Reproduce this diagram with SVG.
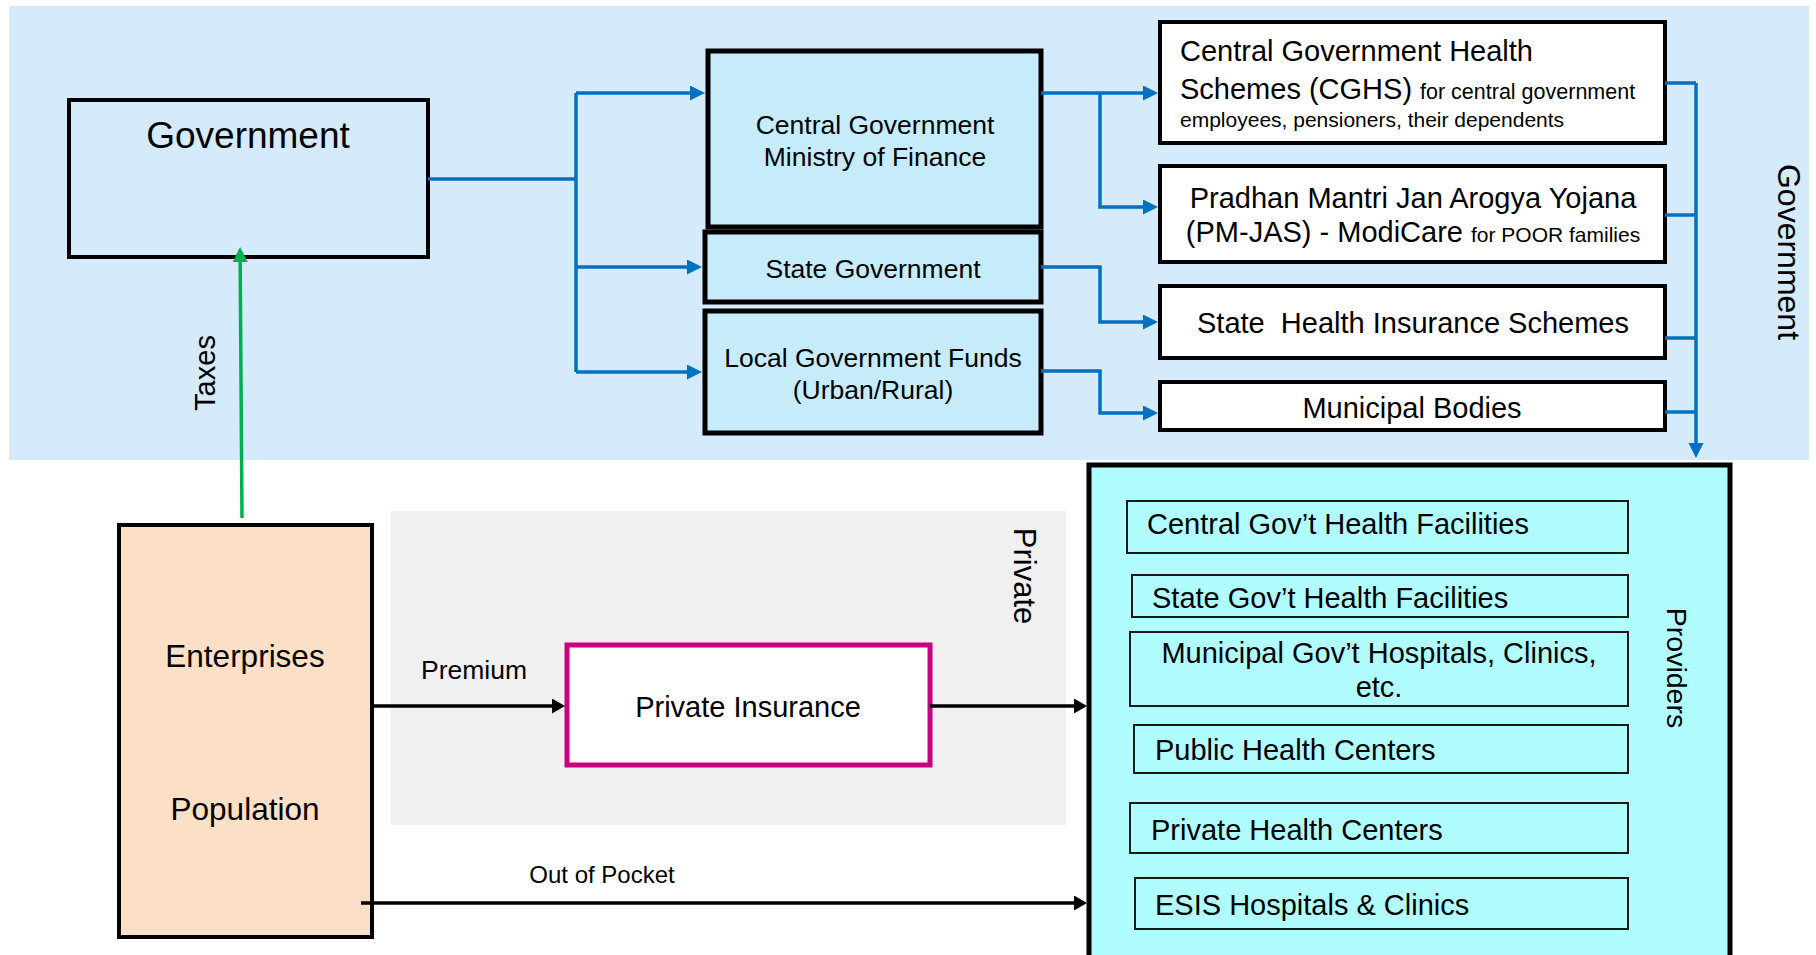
<svg xmlns="http://www.w3.org/2000/svg" width="1816" height="955" viewBox="0 0 1816 955">
<style>
text{font-family:"Liberation Sans",Arial,sans-serif;fill:#000}
.box{stroke:#000;stroke-width:4}
.thick{stroke:#000;stroke-width:5}
.inner{fill:none;stroke:#1a1a1a;stroke-width:2}
.blue{fill:none;stroke:#0070C0;stroke-width:3.5}
.black{fill:none;stroke:#000;stroke-width:3.5}
.green{fill:none;stroke:#00B050;stroke-width:3.5}
.mid{text-anchor:middle}
</style>
<defs>
<marker id="aBlue" markerUnits="userSpaceOnUse" markerWidth="16" markerHeight="16" refX="9" refY="7.5" orient="auto"><path d="M0,0 L15,7.5 L0,15 Z" fill="#0070C0"/></marker>
<marker id="aBlack" markerUnits="userSpaceOnUse" markerWidth="16" markerHeight="16" refX="7" refY="7.5" orient="auto"><path d="M0,0 L13,7.5 L0,15 Z" fill="#000"/></marker>
<marker id="aGreen" markerUnits="userSpaceOnUse" markerWidth="16" markerHeight="16" refX="9" refY="7.5" orient="auto"><path d="M0,0 L15,7.5 L0,15 Z" fill="#00B050"/></marker>
</defs>
<rect width="1816" height="955" fill="#fff"/>
<g id="region-government">
<rect x="9" y="6" width="1800" height="454" fill="#D5EAFB"/>
<text transform="translate(1778,252) rotate(90)" class="mid" font-size="32">Government</text>
</g>
<g id="region-private">
<rect x="391" y="511" width="675" height="314" fill="#F0F0F0"/>
<text transform="translate(1014,576) rotate(90)" class="mid" font-size="31">Private</text>
</g>
<g id="node-government">
<rect class="box" x="69" y="100" width="359" height="157" fill="none"/>
<text x="248" y="148" class="mid" font-size="37">Government</text>
</g>
<g id="node-central">
<rect class="thick" x="708" y="51" width="333" height="176" fill="#C6ECFC"/>
<text x="875" y="134" class="mid" font-size="26.5">Central Government</text>
<text x="875" y="166" class="mid" font-size="26.5">Ministry of Finance</text>
</g>
<g id="node-state">
<rect class="thick" x="705" y="232" width="336" height="70" fill="#C6ECFC"/>
<text x="873" y="278" class="mid" font-size="26.5">State Government</text>
</g>
<g id="node-local">
<rect class="thick" x="705" y="311" width="336" height="122" fill="#C6ECFC"/>
<text x="873" y="367" class="mid" font-size="26.5">Local Government Funds</text>
<text x="873" y="399" class="mid" font-size="26.5">(Urban/Rural)</text>
</g>
<g id="node-cghs">
<rect class="box" x="1160" y="22" width="505" height="121" fill="#fff"/>
<text x="1180" y="61" font-size="29">Central Government Health</text>
<text x="1180" y="99" font-size="29">Schemes (CGHS)<tspan font-size="21.5" dx="8">for central government</tspan></text>
<text x="1180" y="127" font-size="21">employees, pensioners, their dependents</text>
</g>
<g id="node-pmjas">
<rect class="box" x="1160" y="166" width="505" height="96" fill="#fff"/>
<text x="1413" y="208" class="mid" font-size="29">Pradhan Mantri Jan Arogya Yojana</text>
<text x="1413" y="242" class="mid" font-size="29">(PM-JAS) - ModiCare<tspan font-size="21" dx="8">for POOR families</tspan></text>
</g>
<g id="node-statehealth">
<rect class="box" x="1160" y="286" width="505" height="72" fill="#fff"/>
<text x="1413" y="333" class="mid" font-size="29" xml:space="preserve" style="white-space:pre">State  Health Insurance Schemes</text>
</g>
<g id="node-municipal">
<rect class="box" x="1160" y="382" width="505" height="48" fill="#fff"/>
<text x="1412" y="418" class="mid" font-size="29">Municipal Bodies</text>
</g>
<g id="node-enterprises">
<rect class="box" x="119" y="525" width="253" height="412" fill="#FCDFC7"/>
<text x="245" y="667" class="mid" font-size="31.5">Enterprises</text>
<text x="245" y="820" class="mid" font-size="31.5">Population</text>
</g>
<g id="node-private-insurance">
<rect x="567" y="645" width="363" height="120" fill="#fff" stroke="#C9007F" stroke-width="5"/>
<text x="748" y="717" class="mid" font-size="29">Private Insurance</text>
</g>
<g id="node-providers">
<rect class="thick" x="1089" y="465" width="641" height="510" fill="#B0FCFE"/>
<text transform="translate(1667,668) rotate(90)" class="mid" font-size="28.5">Providers</text>
<rect class="inner" x="1127" y="501" width="501" height="52"/>
<text x="1147" y="534" font-size="29">Central Gov’t Health Facilities</text>
<rect class="inner" x="1132" y="575" width="496" height="42"/>
<text x="1152" y="608" font-size="29">State Gov’t Health Facilities</text>
<rect class="inner" x="1130" y="632" width="498" height="74"/>
<text x="1379" y="663" class="mid" font-size="29">Municipal Gov’t Hospitals, Clinics,</text>
<text x="1379" y="697" class="mid" font-size="29">etc.</text>
<rect class="inner" x="1134" y="725" width="494" height="48"/>
<text x="1155" y="760" font-size="29">Public Health Centers</text>
<rect class="inner" x="1130" y="803" width="498" height="50"/>
<text x="1151" y="840" font-size="29">Private Health Centers</text>
<rect class="inner" x="1135" y="878" width="493" height="51"/>
<text x="1155" y="915" font-size="29">ESIS Hospitals &amp; Clinics</text>
</g>
<g id="connectors">
<path class="blue" d="M428,179 H576"/>
<path class="blue" d="M576,93 V372"/>
<path class="blue" d="M576,93 H699" marker-end="url(#aBlue)"/>
<path class="blue" d="M576,267 H696" marker-end="url(#aBlue)"/>
<path class="blue" d="M576,372 H696" marker-end="url(#aBlue)"/>
<path class="blue" d="M1041,93 H1152" marker-end="url(#aBlue)"/>
<path class="blue" d="M1100,93 V207 H1152" marker-end="url(#aBlue)"/>
<path class="blue" d="M1041,267 H1100 V322 H1152" marker-end="url(#aBlue)"/>
<path class="blue" d="M1041,371 H1100 V413 H1152" marker-end="url(#aBlue)"/>
<path class="blue" d="M1665,83 H1696 M1665,215 H1696 M1665,338 H1696 M1665,412 H1696"/>
<path class="blue" d="M1696,83 V452" marker-end="url(#aBlue)"/>
<path class="green" d="M242,518 L240.1,253" marker-end="url(#aGreen)"/>
<text transform="translate(215,373) rotate(-90)" class="mid" font-size="29">Taxes</text>
<path class="black" d="M372,706 H559" marker-end="url(#aBlack)"/>
<text x="474" y="679" class="mid" font-size="26.5">Premium</text>
<path class="black" d="M930,706 H1081" marker-end="url(#aBlack)"/>
<path class="black" d="M361,903 H1081" marker-end="url(#aBlack)"/>
<text x="602" y="883" class="mid" font-size="24">Out of Pocket</text>
</g>
</svg>
